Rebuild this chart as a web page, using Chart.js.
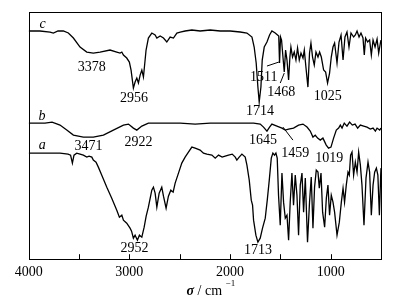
<!DOCTYPE html>
<html>
<head>
<meta charset="utf-8">
<script src="https://cdn.jsdelivr.net/npm/chart.js@4.4.0/dist/chart.umd.min.js"></script>
<style>
  html, body { margin: 0; padding: 0; background: #fff; }
</style>
</head>
<body>
<canvas id="ir" width="405" height="308"></canvas>
<script>
// wavenumbers (cm-1) and relative transmittance (offset, arbitrary units)
const waveC = [4000, 3888, 3788, 3755, 3709, 3656, 3606, 3556, 3490, 3423, 3358, 3291, 3192, 3125, 3092, 3075, 3059, 3026, 3000, 2983,
  2960, 2943, 2926, 2910, 2893, 2876, 2860, 2834, 2811, 2777, 2744, 2727, 2694, 2661, 2628, 2595, 2562, 2528, 2495, 2446,
  2379, 2297, 2197, 2098, 1998, 1899, 1832, 1782, 1760, 1740, 1723, 1710, 1693, 1680, 1660, 1633, 1607, 1584, 1551, 1528,
  1516, 1508, 1498, 1488, 1474, 1461, 1448, 1434, 1418, 1405, 1395, 1379, 1362, 1345, 1329, 1312, 1295, 1275, 1262, 1246,
  1226, 1210, 1196, 1180, 1163, 1146, 1126, 1110, 1093, 1070, 1050, 1031, 1011, 994, 977, 961, 937, 917, 897, 877,
  858, 838, 818, 798, 772, 755, 738, 718, 699, 679, 666, 653, 633, 613, 596, 579, 559, 539, 523, 506, 500];
const transC = [228, 228, 227, 226, 228, 228, 226, 221, 212, 207, 206, 207, 209, 207, 206, 207, 204, 201, 197, 189,
  171, 177, 181, 176, 184, 189, 182, 209, 221, 226, 224, 221, 223, 221, 217, 222, 221, 226, 227, 228,
  229, 228, 229, 228, 228, 227, 226, 222, 212, 196, 172, 157, 172, 199, 212, 217, 224, 228, 226, 224,
  223, 196, 222, 219, 202, 187, 209, 199, 179, 202, 212, 202, 207, 199, 211, 199, 206, 201, 209, 192,
  172, 206, 216, 202, 194, 207, 202, 207, 202, 189, 187, 176, 186, 202, 212, 216, 196, 217, 224, 199,
  222, 227, 212, 226, 222, 224, 228, 222, 226, 221, 204, 221, 217, 219, 204, 219, 212, 220, 206, 216, 219];

const waveB = [4000, 3888, 3838, 3768, 3728, 3689, 3622, 3556, 3457, 3358, 3258, 3159, 3059, 3009, 2960, 2926, 2876, 2811, 2694, 2495,
  2346, 2197, 1998, 1766, 1700, 1667, 1633, 1607, 1584, 1534, 1484, 1451, 1418, 1369, 1319, 1275, 1235, 1203, 1176, 1153,
  1130, 1103, 1077, 1044, 1021, 997, 971, 944, 921, 904, 887, 865, 838, 812, 785, 758, 732, 705, 672, 639,
  606, 579, 556, 539, 513, 500];
const transB = [136, 136, 136, 137, 135.5, 134, 129, 124, 122, 122, 124, 129, 134, 135, 131, 129, 133, 136, 136, 136,
  135, 136, 136, 136, 135, 132, 128, 132, 135, 133, 131, 129, 130, 131, 134, 135, 132, 128, 122, 124,
  121, 119, 121, 114, 111, 112, 121, 129, 131, 134, 131, 136, 133, 137, 134, 135, 131, 134, 133, 132,
  130, 131, 128, 131, 129, 131];

const waveA = [4000, 3888, 3788, 3689, 3609, 3584, 3566, 3550, 3523, 3490, 3457, 3423, 3400, 3373, 3358, 3331, 3308, 3274, 3224, 3175,
  3125, 3099, 3075, 3059, 3026, 2993, 2978, 2960, 2943, 2920, 2900, 2876, 2853, 2833, 2811, 2777, 2761, 2744, 2727, 2704,
  2678, 2661, 2635, 2612, 2588, 2565, 2545, 2512, 2479, 2446, 2413, 2379, 2346, 2297, 2264, 2230, 2180, 2147, 2114, 2078,
  2048, 2015, 1978, 1948, 1932, 1909, 1882, 1849, 1832, 1809, 1789, 1776, 1766, 1743, 1723, 1700, 1677, 1650, 1630, 1610,
  1590, 1574, 1558, 1544, 1531, 1518, 1501, 1484, 1468, 1451, 1434, 1418, 1402, 1385, 1369, 1352, 1335, 1319, 1302, 1285,
  1269, 1252, 1230, 1210, 1193, 1176, 1160, 1143, 1126, 1113, 1096, 1080, 1060, 1043, 1027, 1011, 994, 977, 961, 937,
  914, 894, 877, 862, 845, 828, 815, 802, 788, 772, 755, 738, 722, 705, 689, 669, 649, 629, 613, 596,
  579, 563, 546, 531, 516, 503, 500];
const transA = [106, 106, 106, 106, 105, 104, 96, 104, 106, 105, 104, 102, 103, 102, 99, 97, 92, 84, 72, 61,
  49, 42, 44, 39, 36, 31, 28, 21, 24, 19, 24, 22, 32, 43, 52, 69, 72, 66, 52, 66,
  72, 63, 51, 63, 69, 67, 76, 86, 96, 102, 107, 112, 111, 109, 106, 105, 104, 101, 104, 102,
  103, 104, 105, 102, 99, 102, 105, 102, 94, 79, 59, 54, 39, 24, 17, 21, 31, 41, 59, 79,
  101, 106, 104, 106, 101, 64, 34, 86, 57, 41, 44, 19, 57, 86, 54, 84, 64, 24, 74, 86,
  47, 81, 17, 57, 82, 31, 72, 89, 87, 71, 86, 47, 32, 61, 74, 44, 64, 57, 47, 24,
  37, 57, 71, 57, 74, 87, 84, 104, 107, 84, 97, 87, 107, 94, 74, 34, 81, 97, 87, 44,
  74, 87, 91, 84, 44, 84, 91];

const tickValues = [4000, 3500, 3000, 2500, 2000, 1500, 1000, 500];
const tickLabels = ['4000', '', '3000', '', '2000', '', '1000', ''];

// text placed on the plot, in data units
const notes = [
  { t: 'c', x: 3863, y: 235, it: true }, { t: 'b', x: 3868, y: 143, it: true }, { t: 'a', x: 3865, y: 114, it: true },
  { t: '3378', x: 3374, y: 192 }, { t: '2956', x: 2953, y: 161 }, { t: '1714', x: 1703, y: 148 },
  { t: '1511', x: 1665, y: 182 }, { t: '1468', x: 1491, y: 167 }, { t: '1025', x: 1029, y: 163 },
  { t: '3471', x: 3407, y: 112.5 }, { t: '2922', x: 2910, y: 117 }, { t: '1645', x: 1673, y: 119 },
  { t: '1459', x: 1352, y: 106 }, { t: '1019', x: 1014, y: 101 },
  { t: '2952', x: 2948, y: 11 }, { t: '1713', x: 1723, y: 9 }
];
const leaders = [
  [1633, 193, 1514, 197],
  [1501, 176, 1461, 186],
  [1474, 132, 1375, 119]
];

const serif = "'Liberation Serif', 'Times New Roman', serif";

function toPoints(xs, ys) {
  return xs.map((x, i) => ({ x: x, y: ys[i] }));
}

const framePlugin = {
  id: 'frame',
  afterDraw(chart) {
    const ctx = chart.ctx;
    const a = chart.chartArea;
    const xs = chart.scales.x, ys = chart.scales.y;
    ctx.save();
    ctx.strokeStyle = '#000';
    ctx.lineWidth = 1;
    ctx.strokeRect(Math.round(a.left) + 0.5, Math.round(a.top) + 0.5,
      Math.round(a.right - a.left), Math.round(a.bottom - a.top));
    // inward ticks on the bottom edge
    ctx.beginPath();
    tickValues.forEach(v => {
      const px = Math.round(xs.getPixelForValue(v)) + 0.5;
      ctx.moveTo(px, a.bottom);
      ctx.lineTo(px, a.bottom - 5);
    });
    ctx.stroke();
    // leader lines
    ctx.beginPath();
    leaders.forEach(l => {
      ctx.moveTo(xs.getPixelForValue(l[0]), ys.getPixelForValue(l[1]));
      ctx.lineTo(xs.getPixelForValue(l[2]), ys.getPixelForValue(l[3]));
    });
    ctx.stroke();
    // peak labels
    ctx.fillStyle = '#000';
    ctx.textAlign = 'center';
    ctx.textBaseline = 'middle';
    notes.forEach(n => {
      ctx.font = (n.it ? 'italic ' : '') + '14px ' + serif;
      ctx.fillText(n.t, xs.getPixelForValue(n.x), ys.getPixelForValue(n.y));
    });
    // axis title: sigma / cm^-1
    const cx = (a.left + a.right) / 2 + 6;
    const ty = 291;
    ctx.textAlign = 'left';
    ctx.font = 'bold italic 14px ' + serif;
    const w1 = ctx.measureText('\u03c3').width;
    ctx.font = '14px ' + serif;
    const w2 = ctx.measureText(' / cm ').width;
    ctx.font = '9px ' + serif;
    const w3 = ctx.measureText('\u22121').width;
    let x0 = cx - (w1 + w2 + w3) / 2;
    ctx.font = 'bold italic 14px ' + serif;
    ctx.fillText('\u03c3', x0, ty);
    ctx.font = '14px ' + serif;
    ctx.fillText(' / cm ', x0 + w1, ty);
    ctx.font = '9px ' + serif;
    ctx.fillText('\u22121', x0 + w1 + w2, ty - 7);
    ctx.restore();
  }
};

const line = { borderColor: '#000', borderWidth: 1.3, pointRadius: 0, tension: 0, fill: false };

new Chart(document.getElementById('ir'), {
  type: 'line',
  data: {
    datasets: [
      Object.assign({ label: 'a', data: toPoints(waveA, transA) }, line),
      Object.assign({ label: 'b', data: toPoints(waveB, transB) }, line),
      Object.assign({ label: 'c', data: toPoints(waveC, transC) }, line)
    ]
  },
  options: {
    responsive: false,
    animation: false,
    devicePixelRatio: 1,
    layout: { padding: { left: 28.7, right: 24, top: 12, bottom: 22 } },
    plugins: { legend: { display: false }, tooltip: { enabled: false } },
    scales: {
      x: {
        type: 'linear',
        reverse: true,
        min: 500,
        max: 4000,
        afterBuildTicks: axis => { axis.ticks = tickValues.map(v => ({ value: v })); },
        ticks: {
          autoSkip: false,
          maxRotation: 0,
          padding: 5,
          color: '#000',
          font: { family: serif, size: 14 },
          callback: v => tickLabels[tickValues.indexOf(v)]
        },
        grid: { display: false, drawTicks: false },
        border: { display: false }
      },
      y: { display: false, min: 0, max: 247 }
    }
  },
  plugins: [framePlugin]
});
</script>
</body>
</html>
